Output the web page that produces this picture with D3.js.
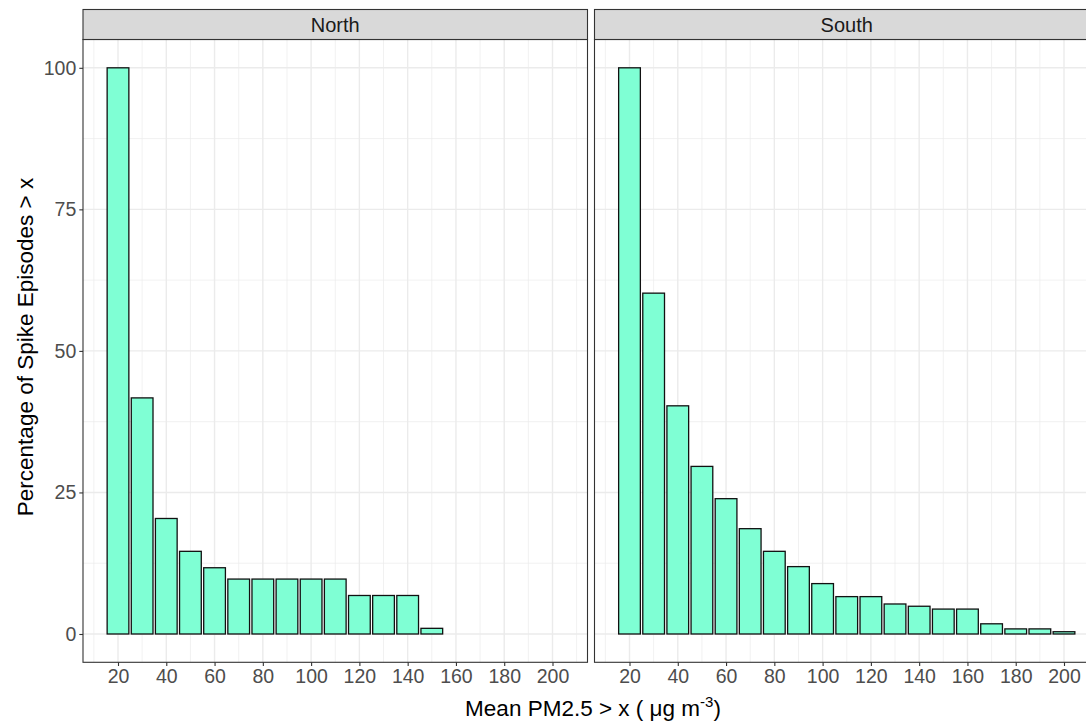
<!DOCTYPE html>
<html>
<head>
<meta charset="utf-8">
<script src="https://cdn.jsdelivr.net/npm/d3@7"></script>
<style>
  body { margin: 0; background: #fff; }
  text { font-family: "Liberation Sans", Arial, sans-serif; }
</style>
</head>
<body>
<div id="chart"></div>
<script>
// thresholds (x) shared by both facets
const thresholds = [20, 30, 40, 50, 60, 70, 80, 90, 100, 110, 120, 130, 140, 150, 160, 170, 180, 190, 200];
const panels = ['North', 'South'];
const northValues = [100, 41.7, 20.4, 14.6, 11.7, 9.7, 9.7, 9.7, 9.7, 9.7, 6.8, 6.8, 6.8, 1.0];
const southValues = [100, 60.2, 40.3, 29.6, 23.9, 18.6, 14.6, 11.9, 8.9, 6.6, 6.6, 5.3, 4.9, 4.4, 4.4, 1.8, 0.9, 0.9, 0.4];
const xTicks = [20, 40, 60, 80, 100, 120, 140, 160, 180, 200];
const xMinor = [10, 30, 50, 70, 90, 110, 130, 150, 170, 190, 210];
const yTicks = [0, 25, 50, 75, 100];
const yMinor = [12.5, 37.5, 62.5, 87.5];

const W = 1086, H = 723;
const svg = d3.select('#chart').append('svg').attr('width', W).attr('height', H);

const panelTop = 39.5, panelBottom = 662.3;
const panelW = 504.5, gap = 7;
const panelLefts = [83, 83 + panelW + gap];
const stripH = 30;
const tickFont = '19.5px';

const y = d3.scaleLinear().domain([-5, 105]).range([panelBottom, panelTop]);
const x = d3.scaleLinear().domain([5.5, 214.5]).range([0, panelW]);
const barW = x(9) - x(0);

const dataByPanel = {
    North: northValues.map((v, i) => ({ x: thresholds[i], v })),
    South: southValues.map((v, i) => ({ x: thresholds[i], v }))
};

panels.forEach((name, pi) => {
    const g = svg.append('g').attr('transform', `translate(${panelLefts[pi]},0)`);
    const ph = panelBottom - panelTop;

    // minor grid
    g.selectAll('.ymin').data(yMinor).enter().append('line')
        .attr('x1', 0).attr('x2', panelW).attr('y1', d => y(d)).attr('y2', d => y(d))
        .attr('stroke', '#EBEBEB').attr('stroke-width', 0.7);
    g.selectAll('.xmin').data(xMinor).enter().append('line')
        .attr('y1', panelTop).attr('y2', panelBottom).attr('x1', d => x(d)).attr('x2', d => x(d))
        .attr('stroke', '#EBEBEB').attr('stroke-width', 0.7);
    // major grid
    g.selectAll('.ymaj').data(yTicks).enter().append('line')
        .attr('x1', 0).attr('x2', panelW).attr('y1', d => y(d)).attr('y2', d => y(d))
        .attr('stroke', '#EBEBEB').attr('stroke-width', 1.4);
    g.selectAll('.xmaj').data(xTicks).enter().append('line')
        .attr('y1', panelTop).attr('y2', panelBottom).attr('x1', d => x(d)).attr('x2', d => x(d))
        .attr('stroke', '#EBEBEB').attr('stroke-width', 1.4);

    // bars
    g.selectAll('.bar').data(dataByPanel[name]).enter().append('rect')
        .attr('x', d => x(d.x) - barW / 2)
        .attr('width', barW)
        .attr('y', d => y(d.v))
        .attr('height', d => y(0) - y(d.v))
        .attr('fill', '#7FFFD4')
        .attr('stroke', '#111')
        .attr('stroke-width', 1.3);

    // panel border
    g.append('rect').attr('x', 0).attr('y', panelTop).attr('width', panelW).attr('height', ph)
        .attr('fill', 'none').attr('stroke', '#333333').attr('stroke-width', 1.1);

    // strip
    g.append('rect').attr('x', 0).attr('y', panelTop - stripH).attr('width', panelW).attr('height', stripH)
        .attr('fill', '#D9D9D9').attr('stroke', '#333333').attr('stroke-width', 1.1);
    g.append('text').attr('x', panelW / 2).attr('y', panelTop - stripH / 2)
        .attr('dy', '0.36em').attr('text-anchor', 'middle')
        .attr('fill', '#1A1A1A').style('font-size', '20px').text(name);

    // x axis
    const xAxis = g.append('g').attr('transform', `translate(0,${panelBottom})`)
        .call(d3.axisBottom(x).tickValues(xTicks).tickSize(3.7).tickPadding(3.5));
    xAxis.select('.domain').remove();
    xAxis.selectAll('line').attr('stroke', '#333333').attr('stroke-width', 1.1);
    xAxis.selectAll('text').attr('fill', '#4D4D4D').style('font-size', tickFont)
        .style('font-family', '"Liberation Sans", Arial, sans-serif');

    if (pi === 0) {
        const yAxis = g.append('g')
            .call(d3.axisLeft(y).tickValues(yTicks).tickSize(3.7).tickPadding(3));
        yAxis.select('.domain').remove();
        yAxis.selectAll('line').attr('stroke', '#333333').attr('stroke-width', 1.1);
        yAxis.selectAll('text').attr('fill', '#4D4D4D').style('font-size', tickFont)
            .style('font-family', '"Liberation Sans", Arial, sans-serif');
    }
});

// axis titles
svg.append('text')
    .attr('transform', `translate(33,347) rotate(-90)`)
    .attr('text-anchor', 'middle').attr('fill', '#000').style('font-size', '22.5px')
    .text('Percentage of Spike Episodes > x');

const xt = svg.append('text').attr('x', 593).attr('y', 716)
    .attr('text-anchor', 'middle').attr('fill', '#000').style('font-size', '22.5px');
xt.append('tspan').text('Mean PM2.5 > x ( \u03BCg m');
xt.append('tspan').attr('dy', -9).style('font-size', '15px').text('-3');
xt.append('tspan').attr('dy', 9).text(')');
</script>
</body>
</html>
